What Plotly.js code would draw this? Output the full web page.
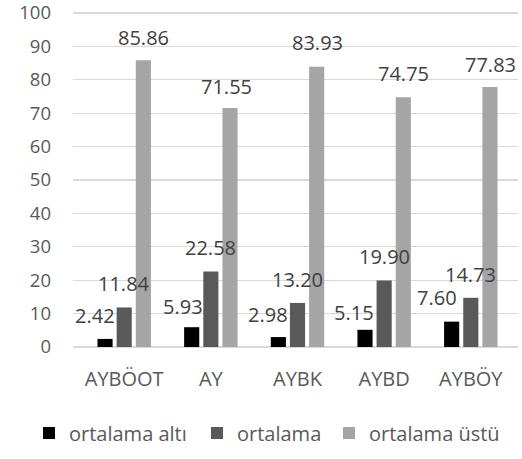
<!DOCTYPE html>
<html>
<head>
<meta charset="utf-8">
<script src="https://cdn.plot.ly/plotly-3.0.1.min.js"></script>
<style>html,body{margin:0;padding:0;background:#fff;}#chart{width:522px;height:459px;}</style>
</head>
<body>
<div id="chart"></div>
<script>
// ---- data ----
const categories = ["AYBÖOT", "AY", "AYBK", "AYBD", "AYBÖY"];
const seriesNames = ["ortalama altı", "ortalama", "ortalama üstü"];
const ortalamaAlti = [2.42, 5.93, 2.98, 5.15, 7.60];
const ortalama = [11.84, 22.58, 13.20, 19.90, 14.73];
const ortalamaUstu = [85.86, 71.55, 83.93, 74.75, 77.83];
const yTicks = [0, 10, 20, 30, 40, 50, 60, 70, 80, 90, 100];

// ---- styles ----
const colors = ["#000000", "#595959", "#a5a5a5"];
const FONT = "Open Sans, sans-serif";
const FS = 20;
const YFS = 18.5;
const TXT = "#595959";
const slotPx = 19.7;                  // pixel spacing between bars in a group
const barOffsetPx = [-slotPx, 0, slotPx];
// label nudges (px) relative to bar centre / top
const labelDx = [[-9.5, -8, -10, -10, -14], [0, 0, 0, 0, 0], [0, -4.5, 0, 0, 0]];
const labelDy = [[23, 21, 23, 17, 24], [23.5, 24, 23, 24, 23], [23, 22, 24, 23.5, 23]];
const legendIds = ["legend", "legend2", "legend3"];
const legendX = [29, 197, 329];       // px from left of page

const series = [ortalamaAlti, ortalama, ortalamaUstu];
const traces = series.map((vals, i) => ({
  type: "bar",
  name: seriesNames[i],
  x: categories,
  y: vals,
  marker: {color: colors[i]},
  legend: legendIds[i],
  hoverinfo: "none"
}));

const annotations = [];
series.forEach((vals, i) => {
  vals.forEach((v, j) => {
    annotations.push({
      x: categories[j], y: v, xref: "x", yref: "y",
      text: v.toFixed(2), showarrow: false,
      xanchor: "center", yanchor: "middle",
      xshift: barOffsetPx[i] + labelDx[i][j],
      yshift: labelDy[i][j],
      font: {family: FONT, size: FS, color: "#404040"}
    });
  });
});

function legendCfg(i) {
  return {
    orientation: "h", xref: "container", yref: "container",
    x: legendX[i] / 522, xanchor: "left",
    y: 1 - 433 / 459, yanchor: "middle",
    font: {family: FONT, size: FS, color: TXT},
    itemwidth: 30, bgcolor: "rgba(0,0,0,0)", borderwidth: 0
  };
}

const layout = {
  width: 522, height: 459,
  margin: {l: 73, r: 4, t: 11, b: 112},
  paper_bgcolor: "#ffffff", plot_bgcolor: "#ffffff",
  barmode: "group",
  bargap: 0.337,
  bargroupgap: 0.21,
  showlegend: true,
  legend: legendCfg(0),
  legend2: legendCfg(1),
  legend3: legendCfg(2),
  xaxis: {
    type: "category", showgrid: false, showline: false, zeroline: false,
    ticks: "", automargin: false, ticklabelstandoff: 18,
    tickfont: {family: FONT, size: FS, color: TXT}
  },
  yaxis: {
    range: [0, 100.6], tickvals: yTicks, ticktext: yTicks.map(String),
    showgrid: true, gridcolor: "#d9d9d9", gridwidth: 1.3,
    zeroline: true, zerolinecolor: "#d9d9d9", zerolinewidth: 1.3,
    showline: false, ticks: "", automargin: false,
    ticklabeloverflow: "allow", ticklabelstandoff: 21,
    tickfont: {family: FONT, size: YFS, color: TXT}
  },
  annotations: annotations,
  font: {family: FONT, size: FS, color: TXT}
};

Plotly.newPlot("chart", traces, layout, {displayModeBar: false, staticPlot: true});
</script>
</body>
</html>
